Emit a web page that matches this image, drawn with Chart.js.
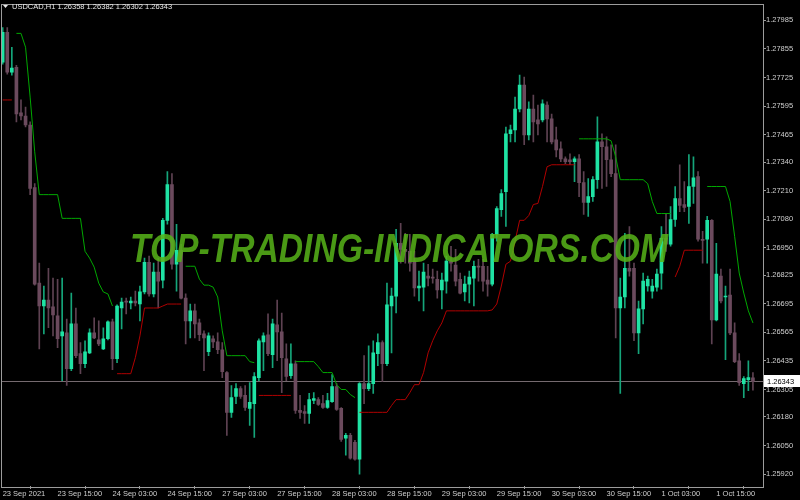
<!DOCTYPE html>
<html>
<head>
<meta charset="utf-8">
<title>USDCAD,H1</title>
<script src="https://cdn.jsdelivr.net/npm/chart.js@4.4.1/dist/chart.umd.min.js"></script>
<style>
  html, body { margin: 0; padding: 0; background: #000; }
  canvas { display: block; }
</style>
</head>
<body>
<canvas id="chart" width="800" height="500"></canvas>
<script>
// USDCAD H1 candles, 23 Sep 2021 03:00 .. 1 Oct 2021 23:00
const open = [
  1.27795, 1.27931, 1.27749, 1.27772, 1.27564, 1.27550, 1.27509, 1.27224, 1.26789, 1.26685,
  1.26712, 1.26681, 1.26640, 1.26549, 1.26563, 1.26400, 1.26604, 1.26468, 1.26422, 1.26472,
  1.26563, 1.26531, 1.26490, 1.26536, 1.26613, 1.26445, 1.26676, 1.26708, 1.26699, 1.26708,
  1.26694, 1.26749, 1.26884, 1.26740, 1.26839, 1.26803, 1.27075, 1.27238, 1.26875, 1.26939,
  1.26721, 1.26617, 1.26663, 1.26608, 1.26558, 1.26477, 1.26536, 1.26522, 1.26486, 1.26382,
  1.26201, 1.26273, 1.26309, 1.26278, 1.26219, 1.26241, 1.26359, 1.26522, 1.26554, 1.26463,
  1.26599, 1.26567, 1.26445, 1.26368, 1.26422, 1.26210, 1.26205, 1.26196, 1.26255, 1.26259,
  1.26241, 1.26223, 1.26250, 1.26318, 1.26219, 1.26083, 1.26096, 1.26065, 1.25988, 1.26332,
  1.26309, 1.26332, 1.26468, 1.26518, 1.26422, 1.26685, 1.26730, 1.26970, 1.26943, 1.26934,
  1.26889, 1.26767, 1.26771, 1.26821, 1.26817, 1.26807, 1.26758, 1.26798, 1.26889, 1.26871,
  1.26807, 1.26749, 1.26785, 1.26812, 1.26866, 1.26866, 1.26803, 1.26785, 1.27011, 1.27124,
  1.27206, 1.27469, 1.27487, 1.27582, 1.27691, 1.27464, 1.27582, 1.27532, 1.27532, 1.27600,
  1.27537, 1.27441, 1.27401, 1.27355, 1.27351, 1.27342, 1.27355, 1.27247, 1.27156, 1.27183,
  1.27260, 1.27432, 1.27410, 1.27351, 1.27288, 1.26676, 1.26726, 1.26857, 1.26857, 1.26563,
  1.26672, 1.26776, 1.26753, 1.26771, 1.26835, 1.26993, 1.26966, 1.27079, 1.27174, 1.27147,
  1.27138, 1.27229, 1.27274, 1.26989, 1.26989, 1.27075, 1.26622, 1.26821, 1.26726, 1.26735,
  1.26563, 1.26436, 1.26332, 1.26350, 1.26358
];
const high = [
  1.27953, 1.27953, 1.27863, 1.27781, 1.27623, 1.27591, 1.27523, 1.27242, 1.26880, 1.26776,
  1.26857, 1.26812, 1.26807, 1.26812, 1.26626, 1.26744, 1.26676, 1.26518, 1.26527, 1.26581,
  1.26631, 1.26617, 1.26586, 1.26617, 1.26626, 1.26690, 1.26721, 1.26721, 1.26726, 1.26753,
  1.26776, 1.26903, 1.26912, 1.26880, 1.26903, 1.27084, 1.27297, 1.27288, 1.27057, 1.26966,
  1.26740, 1.26694, 1.26694, 1.26626, 1.26572, 1.26563, 1.26549, 1.26563, 1.26518, 1.26386,
  1.26323, 1.26332, 1.26318, 1.26323, 1.26336, 1.26382, 1.26536, 1.26563, 1.26649, 1.26626,
  1.26712, 1.26653, 1.26513, 1.26513, 1.26436, 1.26278, 1.26232, 1.26287, 1.26291, 1.26268,
  1.26278, 1.26287, 1.26373, 1.26332, 1.26223, 1.26105, 1.26105, 1.26074, 1.26336, 1.26459,
  1.26504, 1.26527, 1.26558, 1.26527, 1.26789, 1.26767, 1.27034, 1.27061, 1.27016, 1.27011,
  1.26934, 1.26844, 1.26880, 1.26875, 1.26853, 1.26844, 1.26835, 1.26912, 1.26957, 1.26943,
  1.26835, 1.26821, 1.26844, 1.26889, 1.26898, 1.26898, 1.26866, 1.27016, 1.27138, 1.27215,
  1.27500, 1.27509, 1.27636, 1.27736, 1.27727, 1.27614, 1.27645, 1.27600, 1.27623, 1.27614,
  1.27559, 1.27500, 1.27432, 1.27364, 1.27378, 1.27364, 1.27374, 1.27297, 1.27265, 1.27274,
  1.27546, 1.27469, 1.27455, 1.27419, 1.27419, 1.26812, 1.27016, 1.27047, 1.26880, 1.26708,
  1.26835, 1.26821, 1.26807, 1.26853, 1.27047, 1.27106, 1.27138, 1.27229, 1.27328, 1.27251,
  1.27374, 1.27364, 1.27297, 1.27025, 1.27093, 1.27079, 1.26970, 1.26853, 1.26776, 1.26853,
  1.26608, 1.26468, 1.26364, 1.26436, 1.26382
];
const low = [
  1.27786, 1.27740, 1.27736, 1.27523, 1.27532, 1.27500, 1.27192, 1.26780, 1.26490, 1.26558,
  1.26586, 1.26549, 1.26495, 1.26345, 1.26323, 1.26391, 1.26450, 1.26377, 1.26404, 1.26468,
  1.26536, 1.26504, 1.26486, 1.26531, 1.26395, 1.26427, 1.26581, 1.26649, 1.26672, 1.26685,
  1.26617, 1.26740, 1.26730, 1.26726, 1.26676, 1.26767, 1.27057, 1.26853, 1.26753, 1.26717,
  1.26513, 1.26540, 1.26540, 1.26527, 1.26391, 1.26459, 1.26495, 1.26468, 1.26359, 1.26096,
  1.26178, 1.26241, 1.26264, 1.26210, 1.26142, 1.26087, 1.26345, 1.26391, 1.26459, 1.26404,
  1.26436, 1.26291, 1.26345, 1.26355, 1.26196, 1.26173, 1.26151, 1.26151, 1.26241, 1.26232,
  1.26219, 1.26219, 1.26246, 1.26210, 1.26069, 1.26006, 1.25988, 1.25983, 1.25920, 1.26241,
  1.26300, 1.26287, 1.26413, 1.26341, 1.26413, 1.26472, 1.26653, 1.26880, 1.26880, 1.26844,
  1.26730, 1.26708, 1.26663, 1.26776, 1.26789, 1.26721, 1.26672, 1.26744, 1.26844, 1.26776,
  1.26740, 1.26708, 1.26699, 1.26685, 1.26798, 1.26753, 1.26730, 1.26776, 1.26980, 1.27093,
  1.27047, 1.27432, 1.27432, 1.27568, 1.27419, 1.27441, 1.27432, 1.27464, 1.27523, 1.27432,
  1.27423, 1.27364, 1.27342, 1.27333, 1.27328, 1.27251, 1.27183, 1.27102, 1.27093, 1.27161,
  1.27220, 1.27220, 1.27229, 1.27274, 1.26540, 1.26287, 1.26676, 1.26821, 1.26527, 1.26468,
  1.26604, 1.26753, 1.26721, 1.26753, 1.26762, 1.26934, 1.26957, 1.27047, 1.27115, 1.27115,
  1.27061, 1.27152, 1.26980, 1.26880, 1.26880, 1.26513, 1.26617, 1.26699, 1.26441, 1.26554,
  1.26427, 1.26323, 1.26268, 1.26300, 1.26302
];
const close = [
  1.27931, 1.27749, 1.27768, 1.27559, 1.27550, 1.27509, 1.27220, 1.26785, 1.26685, 1.26712,
  1.26676, 1.26644, 1.26536, 1.26567, 1.26400, 1.26604, 1.26459, 1.26422, 1.26477, 1.26563,
  1.26540, 1.26513, 1.26536, 1.26613, 1.26445, 1.26685, 1.26703, 1.26703, 1.26708, 1.26699,
  1.26749, 1.26884, 1.26740, 1.26839, 1.26798, 1.27075, 1.27238, 1.26875, 1.26939, 1.26721,
  1.26617, 1.26663, 1.26604, 1.26554, 1.26540, 1.26549, 1.26522, 1.26486, 1.26386, 1.26201,
  1.26268, 1.26309, 1.26273, 1.26223, 1.26246, 1.26364, 1.26527, 1.26549, 1.26468, 1.26604,
  1.26567, 1.26450, 1.26364, 1.26422, 1.26210, 1.26201, 1.26196, 1.26259, 1.26264, 1.26237,
  1.26223, 1.26255, 1.26318, 1.26214, 1.26078, 1.26096, 1.25992, 1.25988, 1.26332, 1.26309,
  1.26332, 1.26472, 1.26518, 1.26422, 1.26690, 1.26730, 1.26970, 1.26943, 1.26934, 1.26880,
  1.26767, 1.26776, 1.26839, 1.26812, 1.26812, 1.26758, 1.26803, 1.26889, 1.26880, 1.26798,
  1.26744, 1.26785, 1.26817, 1.26866, 1.26862, 1.26798, 1.26785, 1.27011, 1.27129, 1.27197,
  1.27469, 1.27487, 1.27582, 1.27691, 1.27464, 1.27582, 1.27523, 1.27514, 1.27605, 1.27537,
  1.27432, 1.27396, 1.27355, 1.27342, 1.27342, 1.27355, 1.27247, 1.27156, 1.27183, 1.27260,
  1.27432, 1.27410, 1.27351, 1.27288, 1.26676, 1.26726, 1.26857, 1.26844, 1.26563, 1.26672,
  1.26798, 1.26807, 1.26776, 1.26830, 1.26993, 1.26966, 1.27079, 1.27174, 1.27143, 1.27134,
  1.27229, 1.27269, 1.26989, 1.26984, 1.27075, 1.26622, 1.26830, 1.26708, 1.26730, 1.26563,
  1.26432, 1.26336, 1.26355, 1.26359, 1.26343
];

// indicator: green stop line above price, red stop line below price
const upper = [
  null, null, null, 1.27926, 1.27926, 1.27863, 1.27636, 1.27387, 1.27192, 1.27192,
  1.27192, 1.27192, 1.27192, 1.27084, 1.27084, 1.27084, 1.27084, 1.27084, 1.26934, 1.26903,
  1.26862, 1.26789, 1.26749, 1.26740, 1.26685, null, null, null, null, null,
  null, null, null, null, null, null, null, null, null, null,
  1.26866, 1.26866, 1.26866, 1.26807, 1.26780, 1.26780, 1.26771, 1.26726, 1.26572, 1.26459,
  1.26459, 1.26459, 1.26459, 1.26459, 1.26432, 1.26427, null, null, null, null,
  null, null, null, null, 1.26432, 1.26432, 1.26432, 1.26432, 1.26432, 1.26409,
  1.26382, 1.26382, 1.26382, 1.26327, 1.26305, 1.26305, 1.26282, 1.26268, null, null,
  null, null, null, null, null, null, null, null, null, null,
  null, null, null, null, null, null, null, null, null, null,
  null, null, null, null, null, null, null, null, null, null,
  null, null, null, null, null, null, null, null, null, null,
  null, null, null, null, null, null, 1.27446, 1.27446, 1.27446, 1.27446,
  1.27446, 1.27446, 1.27446, 1.27437, 1.27364, 1.27260, 1.27260, 1.27260, 1.27260, 1.27260,
  1.27260, 1.27242, 1.27161, 1.27106, 1.27106, 1.27106, 1.27106, null, null, null,
  null, null, null, null, 1.27229, 1.27229, 1.27229, 1.27229, 1.27229, 1.27161,
  1.27002, 1.26835, 1.26744, 1.26663, 1.26608
];
const lower = [
  1.27623, 1.27623, 1.27623, null, null, null, null, null, null, null,
  null, null, null, null, null, null, null, null, null, null,
  null, null, null, null, null, 1.26377, 1.26377, 1.26377, 1.26377, 1.26450,
  1.26549, 1.26676, 1.26676, 1.26676, 1.26676, 1.26685, 1.26694, 1.26694, 1.26694, 1.26694,
  null, null, null, null, null, null, null, null, null, null,
  null, null, null, null, null, null, 1.26278, 1.26278, 1.26278, 1.26278,
  1.26278, 1.26278, 1.26278, 1.26278, null, null, null, null, null, null,
  null, null, null, null, null, null, null, null, 1.26201, 1.26201,
  1.26201, 1.26201, 1.26201, 1.26201, 1.26201, 1.26232, 1.26259, 1.26259, 1.26259, 1.26291,
  1.26327, 1.26327, 1.26382, 1.26472, 1.26527, 1.26572, 1.26608, 1.26663, 1.26663, 1.26663,
  1.26663, 1.26663, 1.26663, 1.26663, 1.26663, 1.26663, 1.26663, 1.26667, 1.26694, 1.26776,
  1.26875, 1.26889, 1.26980, 1.27075, 1.27075, 1.27097, 1.27147, 1.27152, 1.27229, 1.27319,
  1.27328, 1.27328, 1.27328, 1.27328, 1.27328, 1.27328, null, null, null, null,
  null, null, null, null, null, null, null, null, null, null,
  null, null, null, null, null, null, null, 1.26817, 1.26866, 1.26939,
  1.26939, 1.26939, 1.26939, 1.26939, null, null, null, null, null, null,
  null, null, null, null, null
];

// axis labels
const yTicks = [1.27985, 1.27855, 1.27725, 1.27595, 1.27465, 1.27340, 1.27210, 1.27080,
  1.26950, 1.26825, 1.26695, 1.26565, 1.26435, 1.26305, 1.26180, 1.26050, 1.25920];
const xTickBars = [0, 12, 24, 36, 48, 60, 72, 84, 96, 108, 120, 132, 144, 156];
const xTickLabels = ['23 Sep 2021', '23 Sep 15:00', '24 Sep 03:00', '24 Sep 15:00',
  '27 Sep 03:00', '27 Sep 15:00', '28 Sep 03:00', '28 Sep 15:00', '29 Sep 03:00',
  '29 Sep 15:00', '30 Sep 03:00', '30 Sep 15:00', '1 Oct 03:00', '1 Oct 15:00'];

const symbolTitle = 'USDCAD,H1 1.26358 1.26382 1.26302 1.26343';
const watermark = 'TOP-TRADING-INDICATORS.COM';

const BULL = '#1fe3a4', BEAR = '#6b4a5d';
const BULL_WICK = '#15a57a', BEAR_WICK = '#5e4252';
const AXIS_TXT = '#cfcfcf', FRAME = '#9c9c9c';
const FONT_FAMILY = '"Liberation Sans", Arial, sans-serif';
const labelFont = { family: FONT_FAMILY, size: 7.5 };

const bars = open.map((_, i) => i);
const bid = close[close.length - 1];
const isBull = (i) => close[i] >= open[i];

const mtPlugin = {
  id: 'mt4look',
  beforeDatasetsDraw(chart) {
    // bid line
    const { ctx, chartArea: a, scales: { y } } = chart;
    const py = Math.round(y.getPixelForValue(bid)) + 0.5;
    ctx.save();
    ctx.strokeStyle = '#756a6f';
    ctx.lineWidth = 1;
    ctx.beginPath();
    ctx.moveTo(a.left, py);
    ctx.lineTo(a.right, py);
    ctx.stroke();
    ctx.restore();
  },
  afterDatasetsDraw(chart) {
    const { ctx } = chart;
    ctx.save();
    ctx.font = 'bold italic 41px ' + FONT_FAMILY;
    const w = ctx.measureText(watermark).width;
    ctx.translate(130, 262);
    ctx.scale(538 / w, 1);
    ctx.fillStyle = 'rgba(86, 178, 24, 0.86)';
    ctx.textBaseline = 'alphabetic';
    ctx.fillText(watermark, 0, 0);
    ctx.restore();
  },
  afterDraw(chart) {
    const { ctx, chartArea: a, scales: { y } } = chart;
    ctx.save();
    // frame
    ctx.strokeStyle = FRAME;
    ctx.lineWidth = 1;
    ctx.strokeRect(Math.round(a.left) - 0.5, Math.round(a.top) - 0.5,
      Math.round(a.right - a.left) + 1, Math.round(a.bottom - a.top) + 1);
    // bid price box
    const py = Math.round(y.getPixelForValue(bid));
    ctx.fillStyle = '#ffffff';
    ctx.fillRect(a.right + 1, py - 6, 36, 12);
    ctx.fillStyle = '#000000';
    ctx.font = '7.5px ' + FONT_FAMILY;
    ctx.textBaseline = 'middle';
    ctx.fillText(bid.toFixed(5), a.right + 4, py + 0.5);
    // symbol line
    ctx.fillStyle = '#e8e8e8';
    ctx.beginPath();
    ctx.moveTo(3, 5); ctx.lineTo(8, 5); ctx.lineTo(5.5, 8); ctx.closePath();
    ctx.fill();
    ctx.fillText(symbolTitle, 12, 7);
    ctx.restore();
  }
};

new Chart(document.getElementById('chart').getContext('2d'), {
  type: 'bar',
  data: {
    datasets: [
      {
        type: 'line',
        data: bars.map(i => ({ x: i, y: upper[i] })),
        borderColor: '#00a800',
        borderWidth: 1,
        pointRadius: 0,
        tension: 0,
        spanGaps: false,
        order: 0
      },
      {
        type: 'line',
        data: bars.map(i => ({ x: i, y: lower[i] })),
        borderColor: '#b00000',
        borderWidth: 1,
        pointRadius: 0,
        tension: 0,
        spanGaps: false,
        order: 0
      },
      {
        // wicks
        data: bars.map(i => ({ x: i, y: [low[i], high[i]] })),
        backgroundColor: (c) => isBull(c.dataIndex) ? BULL_WICK : BEAR_WICK,
        barThickness: 1,
        grouped: false,
        borderWidth: 0,
        order: 2
      },
      {
        // bodies
        data: bars.map(i => ({ x: i, y: [open[i], close[i]] })),
        backgroundColor: (c) => isBull(c.dataIndex) ? BULL : BEAR,
        barThickness: 3,
        minBarLength: 1,
        grouped: false,
        borderWidth: 0,
        order: 1
      }
    ]
  },
  options: {
    responsive: false,
    animation: false,
    events: [],
    layout: { padding: { left: 2, top: 2, right: 0, bottom: 0 } },
    plugins: { legend: { display: false }, tooltip: { enabled: false }, title: { display: false } },
    scales: {
      x: {
        type: 'linear',
        position: 'bottom',
        min: -0.15,
        max: 166.2,
        offset: false,
        afterBuildTicks: (s) => { s.ticks = xTickBars.map(v => ({ value: v })); },
        afterFit: (s) => { s.height = 14; },
        ticks: {
          autoSkip: false,
          maxRotation: 0,
          align: 'start',
          padding: 0,
          color: AXIS_TXT,
          font: labelFont,
          callback: (v, i) => xTickLabels[i]
        },
        grid: { drawOnChartArea: false, drawTicks: true, tickLength: 3, color: FRAME },
        border: { display: false }
      },
      y: {
        type: 'linear',
        position: 'right',
        min: 1.258657,
        max: 1.280575,
        afterBuildTicks: (s) => { s.ticks = yTicks.map(v => ({ value: v })); },
        afterFit: (s) => { s.width = 37; },
        ticks: {
          padding: 0,
          color: AXIS_TXT,
          font: labelFont,
          callback: (v) => v.toFixed(5)
        },
        grid: { drawOnChartArea: false, drawTicks: true, tickLength: 3, color: FRAME },
        border: { display: false }
      }
    }
  },
  plugins: [mtPlugin]
});
</script>
</body>
</html>
